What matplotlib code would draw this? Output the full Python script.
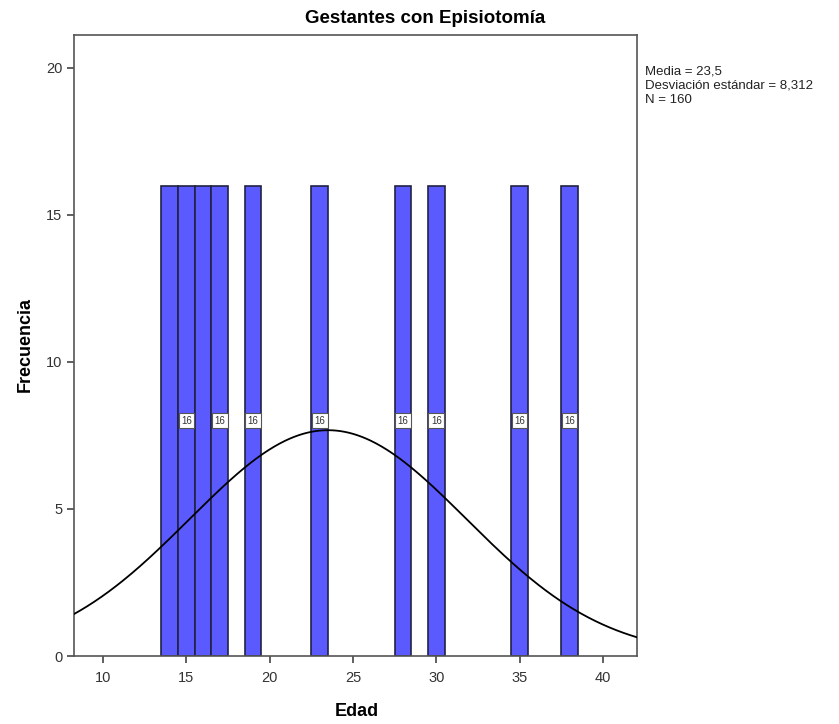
import numpy as np
import matplotlib
matplotlib.use("Agg")
import matplotlib.pyplot as plt

plt.rcParams['font.family'] = ['Liberation Sans', 'DejaVu Sans']

ages = [14, 15, 16, 17, 19, 23, 28, 30, 35, 38]
counts = [16, 16, 16, 16, 16, 16, 16, 16, 16, 16]
labeled = [15, 17, 19, 23, 28, 30, 35, 38]
mean = 23.5
sd = 8.312
n = 160
xticks = [10, 15, 20, 25, 30, 35, 40]
yticks = [0, 5, 10, 15, 20]

fig = plt.figure(figsize=(8.39, 7.24), dpi=100)
ax = fig.add_axes([0.0882, 0.0939, 0.671, 0.8578])

ax.bar(ages, counts, width=1.0, color='#5a5aff', edgecolor='#222244', linewidth=1.2, zorder=2)
for a, c in zip(ages, counts):
    if a in labeled:
        ax.text(a, c / 2, str(c), ha='center', va='center', fontsize=7, color='#333333', zorder=4,
                bbox=dict(boxstyle='square,pad=0.25', facecolor='white', edgecolor='#555555', linewidth=0.8))

xs = np.linspace(8.2, 42.1, 400)
ys = n * 1.0 / (sd * np.sqrt(2 * np.pi)) * np.exp(-0.5 * ((xs - mean) / sd) ** 2)
ax.plot(xs, ys, color='black', linewidth=1.3, zorder=3)

ax.set_xlim(8.25, 42.05)
ax.set_ylim(0, 21.12)
ax.set_xticks(xticks)
ax.set_yticks(yticks)
ax.tick_params(direction='out', length=5, width=1.2, color='#444444', labelsize=10.5, labelcolor='#333333')
ax.tick_params(axis='x', pad=6)
for s in ax.spines.values():
    s.set_color('#555555')
    s.set_linewidth(1.2)

fig.text(357 / 839, 1 - 712 / 724, 'Edad', ha='center', va='center', fontsize=13, fontweight='bold')
fig.text(25 / 839, 1 - 345 / 724, 'Frecuencia', ha='center', va='center', rotation=90, fontsize=13, fontweight='bold')
fig.text(425 / 839, 0.975, 'Gestantes con Episiotomía', ha='center', va='center', fontsize=13.5, fontweight='bold')
fig.text(0.769, 0.91, 'Media = 23,5\nDesviación estándar = 8,312\nN = 160', ha='left', va='top',
         fontsize=9.5, color='#222222', linespacing=1.25)

fig.savefig('out.png', dpi=100)
